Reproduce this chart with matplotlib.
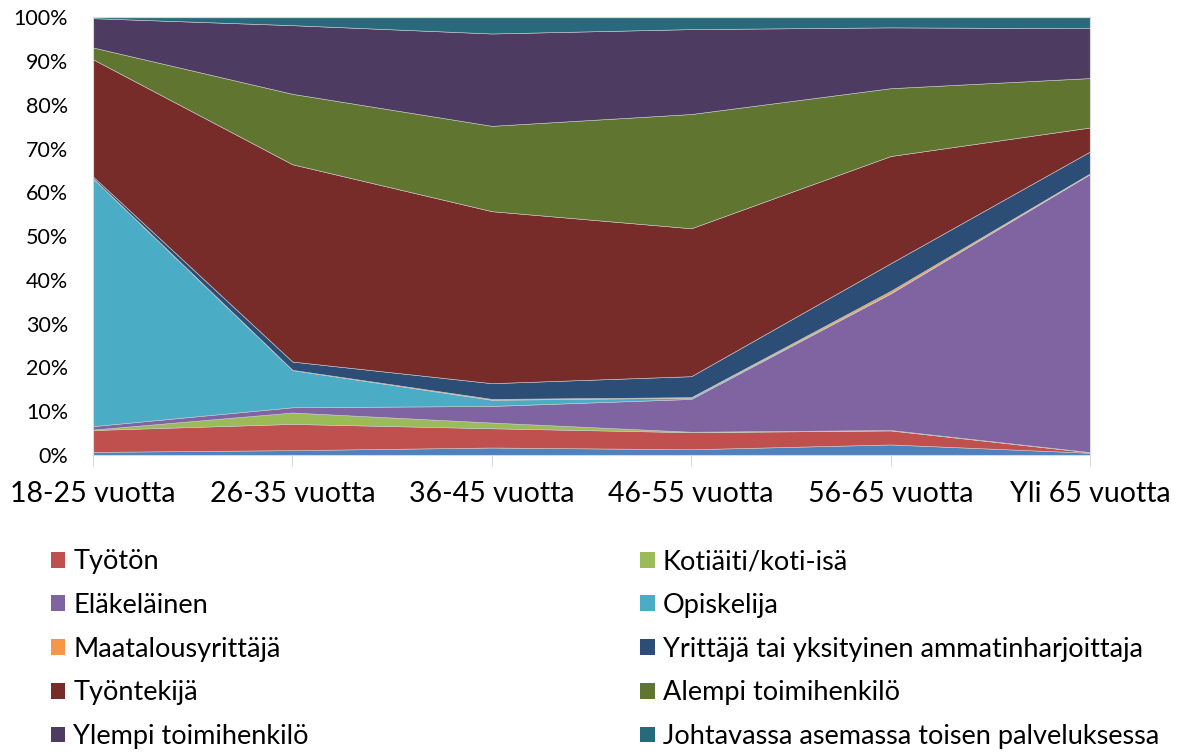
import numpy as np
import matplotlib.pyplot as plt
from matplotlib.patches import Patch

plt.rcParams['font.family'] = ['Lato', 'DejaVu Sans']

ryhmat = ['18-25 vuotta', '26-35 vuotta', '36-45 vuotta', '46-55 vuotta', '56-65 vuotta', 'Yli 65 vuotta']

# osuudet (%) jokaisessa ikäryhmässä, alimmasta kerroksesta ylöspäin
muu         = [0.7, 1.1, 1.7, 1.3, 2.4, 0.5]
tyoton      = [5.0, 6.0, 4.4, 3.9, 3.2, 0.1]
kotiaiti    = [0.1, 2.6, 1.3, 0.1, 0.1, 0.05]
elakelainen = [0.8, 1.2, 3.8, 7.5, 31.2, 63.6]
opiskelija  = [56.6, 8.5, 1.4, 0.3, 0.1, 0.05]
maatalous   = [0.05, 0.05, 0.2, 0.1, 0.5, 0.1]
yrittaja    = [0.4, 1.9, 3.6, 4.8, 6.3, 5.0]
tyontekija  = [26.8, 45.1, 39.3, 33.8, 24.5, 5.5]
alempi      = [2.7, 16.1, 19.5, 26.1, 15.5, 11.3]
ylempi      = [6.7, 15.7, 21.1, 19.4, 13.9, 11.4]
johtava     = [0.2, 1.8, 3.7, 2.7, 2.3, 2.5]

sarjat = [muu, tyoton, kotiaiti, elakelainen, opiskelija, maatalous,
          yrittaja, tyontekija, alempi, ylempi, johtava]
nimet = ['Muu', 'Työtön', 'Kotiäiti/koti-isä', 'Eläkeläinen', 'Opiskelija',
         'Maatalousyrittäjä', 'Yrittäjä tai yksityinen ammatinharjoittaja',
         'Työntekijä', 'Alempi toimihenkilö', 'Ylempi toimihenkilö',
         'Johtavassa asemassa toisen palveluksessa']
varit = ['#4F81BD', '#C0504D', '#9BBB59', '#8064A2', '#4BACC6', '#F79646',
         '#2C4D75', '#772C2A', '#5F7530', '#4D3B62', '#276A7C']

data = np.array(sarjat, dtype=float)
data = data / data.sum(axis=0) * 100  # 100 % pinottu

fig = plt.figure(figsize=(11.79, 7.52), dpi=100)
ax = fig.add_axes([0.0789, 0.395, 0.8456, 0.582])

x = np.arange(len(ryhmat))
ax.stackplot(x, data, colors=varit, edgecolor='#c8c8c8', linewidth=0.4)

ax.set_xlim(0, len(ryhmat) - 1)
ax.set_ylim(0, 100)
ax.set_xticks(x)
ax.set_xticklabels(ryhmat, fontsize=20.5)
ax.set_yticks(np.arange(0, 101, 10))
ax.set_yticklabels([f'{v}%' for v in range(0, 101, 10)], fontsize=15.5)
ax.tick_params(axis='y', length=0, pad=18)
ax.tick_params(axis='x', length=8, color='#d9d9d9', pad=11)
for s in ax.spines.values():
    s.set_color('#d9d9d9')

# legend kahtena sarakkeena
vasen = [1, 3, 5, 7, 9]
oikea = [2, 4, 6, 8, 10]
for idx, xpos in [(vasen, 0.034), (oikea, 0.534)]:
    kahvat = [Patch(facecolor=varit[i], label=nimet[i]) for i in idx]
    fig.legend(handles=kahvat, loc='upper left', bbox_to_anchor=(xpos, 0.284),
               frameon=False, fontsize=19.5, handlelength=0.52, handleheight=0.52,
               handletextpad=0.3, labelspacing=0.69, borderaxespad=0)

fig.savefig('out.png', dpi=100)
